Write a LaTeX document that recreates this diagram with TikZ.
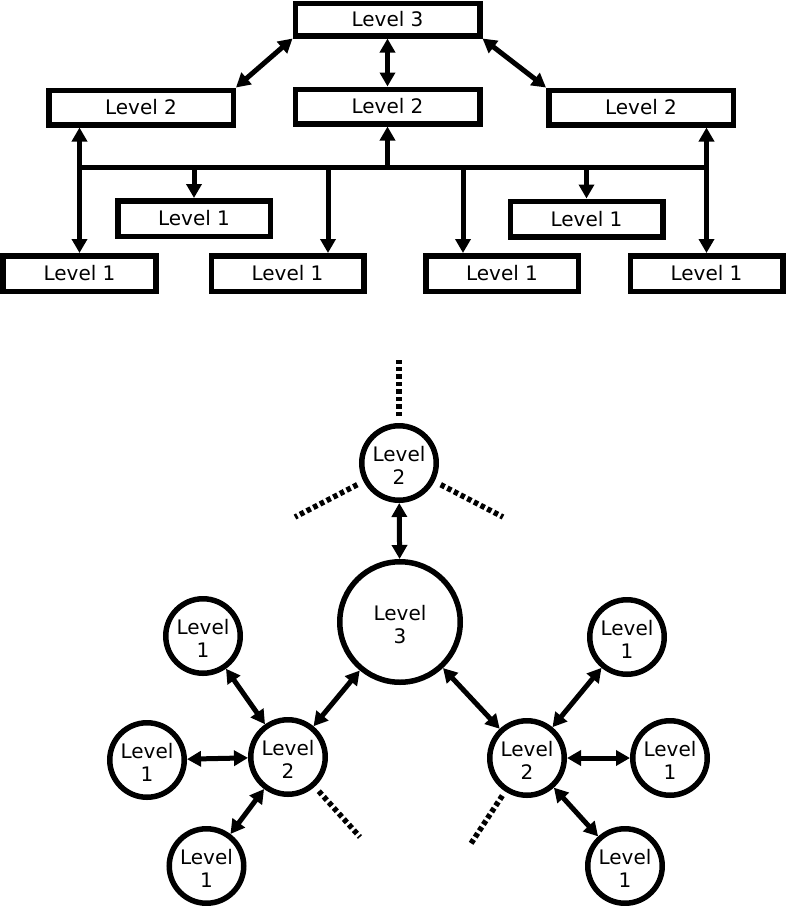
\documentclass[tikz,border=0pt]{standalone}
\usepackage{fontspec}
\setmainfont{DejaVu Sans}
\usetikzlibrary{arrows.meta,positioning}

\newcommand{\lvtext}[1]{\raisebox{-5pt}[\height][\depth]{\begin{tabular}{@{}c@{}}Level\\#1\end{tabular}}}

\tikzset{
  lvlbox/.style={draw, line width=5.5pt, minimum width=184.5pt, minimum height=34.5pt, inner sep=0pt, font=\fontsize{20}{23}\selectfont},
  lowbox/.style={lvlbox, minimum width=152.5pt, minimum height=35.5pt},
  lvlcirc/.style={draw, circle, line width=5.5pt, minimum size=74.5pt, inner sep=0pt, font=\fontsize{20}{23}\selectfont},
  topcirc/.style={lvlcirc, minimum size=120.5pt},
  link/.style={line width=5pt},
  uni/.style={link, -{Triangle[length=14pt,width=15pt]}},
  bi/.style={link, {Triangle[length=14pt,width=15pt]}-{Triangle[length=14pt,width=15pt]}},
  stub/.style={line width=5.5pt, dash pattern=on 4.5pt off 3pt},
}

\begin{document}
\begin{tikzpicture}[x=10pt, y=-10pt]
    \useasboundingbox (0,0) rectangle (78.7,90.6);

    % hierarchy of boxes
    \node[lvlbox, minimum height=32.5pt] (l3) at (38.75,1.95) {Level 3};
    \node[lvlbox] (l2a) at (14.1,10.75) {Level 2};
    \node[lvlbox] (l2b) at (38.75,10.65) {Level 2};
    \node[lvlbox] (l2c) at (64.1,10.75) {Level 2};

    \node[lowbox] (l1e) at (19.4,21.85) {Level 1};
    \node[lowbox] (l1f) at (58.65,21.9) {Level 1};
    \node[lowbox] (l1a) at (7.95,27.35) {Level 1};
    \node[lowbox] (l1b) at (28.75,27.35) {Level 1};
    \node[lowbox] (l1c) at (50.2,27.35) {Level 1};
    \node[lowbox] (l1d) at (70.65,27.35) {Level 1};

    \draw[bi] (l3.south west) -- (l2a.north east);
    \draw[bi] (l3.south) -- (l2b.north);
    \draw[bi] (l3.south east) -- (l2c.north west);

    \coordinate (bus) at (0,16.7);
    \coordinate (t1) at (32.8,16.7);
    \coordinate (t2) at (46.3,16.7);
    \draw[link] (l1a.north |- bus) -- (l1d.north |- bus);
    \draw[bi] (l1a.north |- l2a.south) -- (l1a.north);
    \draw[bi] (l1d.north |- l2c.south) -- (l1d.north);
    \draw[uni] (l2b.south |- bus) -- (l2b.south);
    \draw[uni] (l1e.north |- bus) -- (l1e.north);
    \draw[uni] (l1f.north |- bus) -- (l1f.north);
    \draw[uni] (t1) -- (t1 |- l1b.north);
    \draw[uni] (t2) -- (t2 |- l1c.north);

    % network of circles
    \node[topcirc] (c3) at (40.0,62.2) {\lvtext{3}};
    \node[lvlcirc] (u2) at (39.9,46.3) {\lvtext{2}};
    \node[lvlcirc] (a2) at (28.8,75.7) {\lvtext{2}};
    \node[lvlcirc] (b2) at (52.7,75.8) {\lvtext{2}};

    \node[lvlcirc] (a1u) at (20.3,63.6) {\lvtext{1}};
    \node[lvlcirc] (a1l) at (14.7,76.0) {\lvtext{1}};
    \node[lvlcirc] (a1d) at (20.65,86.6) {\lvtext{1}};
    \node[lvlcirc] (b1u) at (62.7,63.7) {\lvtext{1}};
    \node[lvlcirc] (b1r) at (67.0,75.8) {\lvtext{1}};
    \node[lvlcirc] (b1d) at (62.5,86.6) {\lvtext{1}};

    \draw[bi] (u2) -- (c3);
    \draw[bi] (c3) -- (a2);
    \draw[bi] (c3) -- (b2);
    \foreach \n in {a1u,a1l,a1d} \draw[bi] (a2) -- (\n);
    \foreach \n in {b1u,b1r,b1d} \draw[bi] (b2) -- (\n);

    % loose ends
    \coordinate (s1) at (39.9,36.0);
    \coordinate (s2) at (29.5,51.7);
    \coordinate (s3) at (50.3,51.7);
    \coordinate (s4) at (36.0,83.7);
    \coordinate (s5) at (47.0,84.5);
    \draw[stub, shorten <=7pt] (u2) -- (s1);
    \draw[stub, shorten <=7pt] (u2) -- (s2);
    \draw[stub, shorten <=7pt] (u2) -- (s3);
    \draw[stub, shorten <=6pt] (a2) -- (s4);
    \draw[stub, shorten <=5pt] (b2) -- (s5);
\end{tikzpicture}
\end{document}
